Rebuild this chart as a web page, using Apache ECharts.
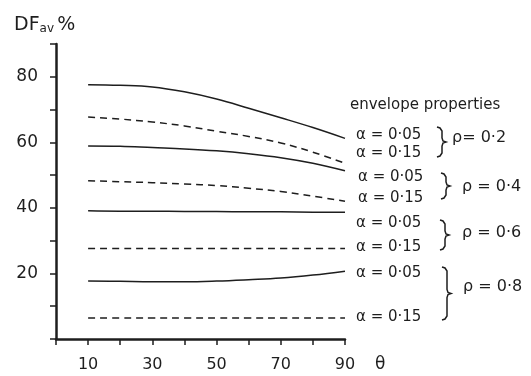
<!DOCTYPE html>
<html><head><meta charset="utf-8">
<script src="https://cdn.jsdelivr.net/npm/echarts@6/dist/echarts.min.js"></script>
<style>html,body{margin:0;padding:0;background:#fff}#c{width:531px;height:376px}</style>
</head><body><div id="c"></div>
<script>
var theta = [10, 20, 30, 40, 50, 60, 70, 80, 90];
var r02a05 = [77.6, 77.4, 76.9, 75.4, 73.2, 70.4, 67.5, 64.5, 61.2];
var r02a15 = [67.7, 67.1, 66.2, 65.0, 63.4, 61.8, 59.8, 57.0, 53.6];
var r04a05 = [58.9, 58.8, 58.4, 58.0, 57.4, 56.5, 55.3, 53.6, 51.3];
var r04a15 = [48.3, 48.0, 47.7, 47.3, 46.8, 46.0, 45.0, 43.6, 42.0];
var r06a05 = [39.1, 39.0, 39.0, 38.9, 38.9, 38.8, 38.8, 38.7, 38.7];
var r06a15 = [27.6, 27.6, 27.6, 27.6, 27.6, 27.6, 27.6, 27.6, 27.6];
var r08a05 = [17.7, 17.6, 17.5, 17.5, 17.7, 18.1, 18.6, 19.5, 20.7];
var r08a15 = [6.4, 6.4, 6.4, 6.4, 6.4, 6.4, 6.4, 6.4, 6.4];
var xLabels = [10, 30, 50, 70, 90];
var yLabels = [20, 40, 60, 80];

var ink = '#1e1e1e';
var font = 'DejaVu Sans';
function pts(v){ return theta.map(function(t,i){ return [t, v[i]]; }); }
function ser(v, dashed){
  return { type:'line', data:pts(v), smooth:0.4, showSymbol:false, silent:true,
    lineStyle:{ color:ink, width:1.5, type: dashed ? [7,5] : 'solid' } };
}
function brace(x, t, b){
  var m = (t+b)/2;
  return { type:'polyline', shape:{ points:[[x,t],[x+3,t+1],[x+5,t+4],[x+5,m-4],[x+6,m-1],[x+9,m],[x+6,m+1],[x+5,m+4],[x+5,b-4],[x+3,b-1],[x,b]] },
    style:{ stroke:ink, fill:null, lineWidth:1.5 } };
}
function abs(x, y, s, size){
  return { type:'text', x:x, y:y, style:{ text:s, fill:ink, font:(size||15)+'px "'+font+'"', verticalAlign:'middle', align:'left' } };
}

var chart = echarts.init(document.getElementById('c'));
chart.setOption({
  animation:false,
  backgroundColor:'#fff',
  grid:{ left:56, right:186, top:44, bottom:37 },
  xAxis:{ type:'value', min:0, max:90, interval:10,
    axisLine:{ lineStyle:{ color:ink, width:2.5 } },
    axisTick:{ show:true, length:6, lineStyle:{ color:ink, width:1.5 } },
    splitLine:{ show:false },
    axisLabel:{ margin:18, color:ink, fontSize:16, fontFamily:font,
      formatter:function(v){ return xLabels.indexOf(v) >= 0 ? String(v) : ''; } } },
  yAxis:{ type:'value', min:0, max:90, interval:10,
    axisLine:{ show:true, lineStyle:{ color:ink, width:2.5 } },
    axisTick:{ show:true, length:6, lineStyle:{ color:ink, width:1.5 } },
    splitLine:{ show:false },
    axisLabel:{ margin:18, color:ink, fontSize:17, fontFamily:font,
      formatter:function(v){ return yLabels.indexOf(v) >= 0 ? String(v) : ''; } } },
  series:[ ser(r02a05,false), ser(r02a15,true), ser(r04a05,false), ser(r04a15,true),
           ser(r06a05,false), ser(r06a15,true), ser(r08a05,false), ser(r08a15,true) ],
  graphic:[
    { type:'text', x:14, y:25, style:{ rich:{ a:{ fontSize:19, fontFamily:font, fill:ink }, b:{ fontSize:12, fontFamily:font, fill:ink, padding:[8,0,0,0] } },
      text:'{a|DF}{b|av} {a|%}', fill:ink, verticalAlign:'middle' } },
    abs(375, 365, 'θ', 17),
    abs(350, 105, 'envelope properties', 15),
    abs(356, 135, 'α = 0·05'), abs(356, 153, 'α = 0·15'),
    brace(437, 127, 157), abs(452, 138, 'ρ= 0·2', 16),
    abs(358, 177, 'α = 0·05'), abs(358, 198, 'α = 0·15'),
    brace(441, 173, 199), abs(462, 187, 'ρ = 0·4', 16),
    abs(356, 223, 'α = 0·05'), abs(356, 247, 'α = 0·15'),
    brace(440, 220, 250), abs(462, 233, 'ρ = 0·6', 16),
    abs(356, 273, 'α = 0·05'), abs(356, 317, 'α = 0·15'),
    brace(442, 267, 320), abs(463, 287, 'ρ = 0·8', 16)
  ]
});
</script></body></html>
